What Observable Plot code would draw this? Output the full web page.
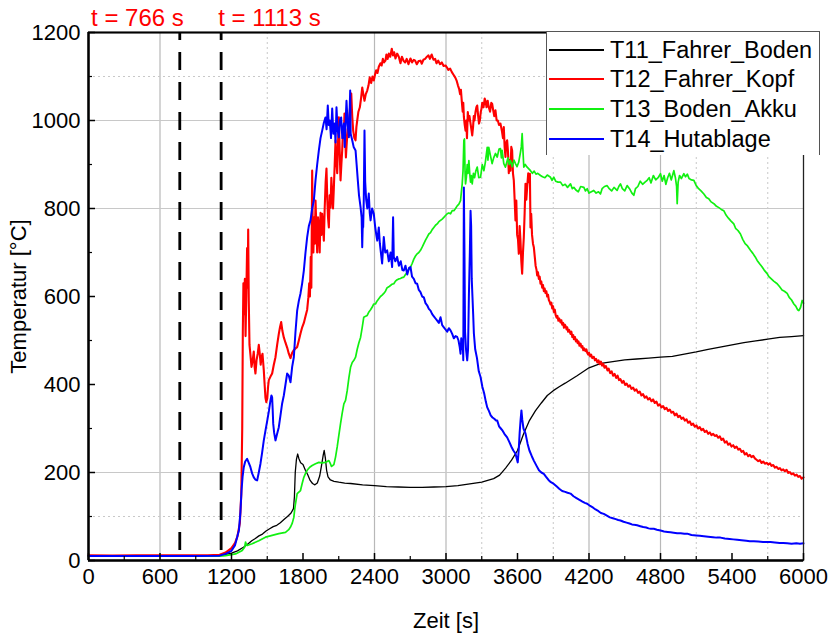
<!DOCTYPE html>
<html><head><meta charset="utf-8">
<script src="https://cdn.jsdelivr.net/npm/d3@7"></script>
<script src="https://cdn.jsdelivr.net/npm/@observablehq/plot@0.6"></script>
<style>
body{margin:0;background:#fff;}
#wrap{position:relative;width:832px;height:635px;font-family:'Liberation Sans',Arial,sans-serif;}
#legend{position:absolute;left:546px;top:31px;width:274px;height:124px;background:#fff;border-left:1px solid #555;border-right:1px solid #555;border-top:1px solid #555;box-sizing:border-box;}
.row{position:absolute;left:0;height:30px;width:270px;}
.sw{position:absolute;left:2px;width:55px;}
.lab{position:absolute;left:63px;top:0;font-size:23.5px;line-height:30px;white-space:nowrap;color:#000;}
</style></head><body><div id="wrap"></div>
<script>
// ---- data: [time s, temperature °C] ----
const seriesNames = ["T11_Fahrer_Boden", "T12_Fahrer_Kopf", "T13_Boden_Akku", "T14_Hutablage"];
const seriesColors = ["#000000", "#ff0000", "#11f011", "#0000ff"];
const eventTimes = [766, 1113];
const eventLabels = ["t = 766 s", "t = 1113 s"];
const xMajorTicks = [0, 600, 1200, 1800, 2400, 3000, 3600, 4200, 4800, 5400, 6000];
const xMinorTicks = [300, 900, 1500, 2100, 2700, 3300, 3900, 4500, 5100, 5700];
const yMajorTicks = [0, 200, 400, 600, 800, 1000, 1200];
const yMinorTicks = [100, 300, 500, 700, 900, 1100];
const xGridSolid = [600, 2400, 3000, 4200, 4800];
const xGridDotted = [1500, 3300, 3900, 5100, 5700];
const yGridSolid = [200, 800, 1000];
const yGridDotted = [100, 1100];

const t11 = [[0,10],[300,10],[600,11],[900,11],[1100,11],[1150,14],[1200,17],[1250,22],[1300,30],[1330,36],[1370,45],[1400,50],[1430,56],[1460,60],[1490,67],[1520,72],[1550,77],[1580,80],[1610,86],[1640,93],[1670,100],[1700,108],[1720,118],[1728,145],[1735,200],[1745,230],[1755,242],[1765,232],[1780,222],[1800,218],[1820,205],[1840,195],[1860,182],[1880,175],[1900,172],[1920,176],[1940,192],[1955,215],[1970,240],[1978,250],[1988,232],[1998,205],[2010,190],[2030,183],[2060,180],[2100,178],[2150,176],[2200,175],[2300,172],[2400,170],[2500,168],[2600,167],[2700,166],[2800,166],[2900,167],[3000,168],[3100,170],[3200,174],[3300,178],[3350,182],[3400,186],[3450,194],[3500,210],[3550,228],[3600,250],[3650,287],[3700,318],[3750,340],[3800,358],[3850,375],[3900,386],[3950,395],[4000,403],[4100,420],[4200,438],[4300,448],[4400,452],[4500,456],[4600,458],[4700,460],[4800,462],[4900,464],[5000,469],[5100,474],[5200,480],[5300,485],[5400,490],[5500,495],[5600,499],[5700,503],[5800,507],[5900,509],[6000,511]];

const t12 = [[0,12],[200,11],[400,12],[600,12],[800,12],[1000,12],[1100,13],[1150,18],[1200,28],[1230,40],[1250,55],[1270,85],[1282,150],[1290,300],[1295,520],[1300,630],[1306,560],[1312,640],[1318,510],[1324,600],[1331,710],[1336,620],[1340,752],[1345,590],[1351,490],[1358,470],[1368,440],[1378,455],[1387,475],[1394,440],[1401,425],[1410,455],[1420,470],[1429,490],[1437,470],[1445,445],[1452,462],[1460,470],[1471,432],[1478,400],[1485,370],[1492,360],[1500,368],[1507,395],[1513,410],[1527,418],[1541,425],[1555,445],[1569,462],[1583,490],[1597,515],[1607,530],[1617,542],[1627,522],[1639,507],[1653,495],[1667,484],[1681,470],[1695,460],[1709,472],[1723,478],[1737,482],[1751,485],[1765,500],[1779,516],[1793,530],[1807,540],[1821,555],[1835,570],[1845,598],[1852,630],[1858,600],[1865,690],[1870,620],[1877,886],[1882,740],[1887,700],[1893,780],[1899,720],[1905,818],[1912,760],[1919,700],[1926,780],[1933,757],[1940,700],[1947,790],[1954,740],[1961,788],[1968,760],[1975,727],[1982,800],[1990,860],[1997,891],[2004,820],[2010,780],[2017,757],[2024,830],[2031,802],[2038,870],[2045,830],[2052,800],[2059,848],[2066,900],[2073,955],[2080,910],[2087,880],[2094,950],[2101,1007],[2108,930],[2115,864],[2122,900],[2129,932],[2136,980],[2142,960],[2148,1016],[2155,960],[2160,916],[2165,940],[2175,980],[2185,993],[2195,1030],[2205,1061],[2213,1010],[2221,977],[2231,960],[2241,955],[2248,985],[2255,1000],[2265,1020],[2277,1030],[2287,1050],[2297,1075],[2306,1060],[2316,1045],[2327,1060],[2339,1068],[2350,1080],[2360,1098],[2372,1085],[2383,1100],[2394,1091],[2405,1105],[2414,1114],[2425,1108],[2436,1122],[2450,1130],[2460,1125],[2470,1140],[2480,1132],[2492,1136],[2500,1150],[2510,1140],[2520,1152],[2532,1145],[2545,1163],[2555,1148],[2565,1155],[2576,1141],[2590,1152],[2604,1145],[2618,1130],[2630,1145],[2645,1135],[2657,1132],[2670,1140],[2685,1128],[2702,1141],[2715,1132],[2730,1138],[2741,1136],[2755,1128],[2770,1135],[2786,1136],[2797,1129],[2810,1138],[2825,1140],[2840,1145],[2853,1148],[2865,1140],[2880,1150],[2895,1138],[2909,1140],[2920,1130],[2935,1136],[2950,1128],[2965,1132],[2980,1124],[2996,1125],[3007,1121],[3020,1115],[3035,1118],[3049,1110],[3063,1104],[3077,1098],[3090,1090],[3100,1080],[3110,1072],[3118,1060],[3125,1070],[3133,1042],[3140,1020],[3145,1040],[3150,1008],[3157,990],[3164,977],[3170,1000],[3176,960],[3183,1019],[3190,1000],[3197,1010],[3206,993],[3213,980],[3220,966],[3227,985],[3233,1010],[3239,1000],[3248,1020],[3255,1030],[3262,1034],[3270,1010],[3277,993],[3284,1000],[3292,1020],[3298,1027],[3304,1040],[3315,1030],[3325,1050],[3331,1045],[3340,1030],[3350,1045],[3359,1030],[3370,1020],[3380,1040],[3387,1038],[3395,1025],[3405,1010],[3415,1023],[3425,1000],[3435,1000],[3445,990],[3457,993],[3470,975],[3478,960],[3485,985],[3492,940],[3499,917],[3506,950],[3513,955],[3520,930],[3527,880],[3534,910],[3541,886],[3548,940],[3555,932],[3562,880],[3569,864],[3576,820],[3583,773],[3590,818],[3597,740],[3604,730],[3611,697],[3618,760],[3625,727],[3632,680],[3639,652],[3646,700],[3653,735],[3660,790],[3667,856],[3674,820],[3681,848],[3690,880],[3697,860],[3704,879],[3709,757],[3715,788],[3722,740],[3730,720],[3737,712],[3745,690],[3752,670],[3760,660],[3765,648],[3772,655],[3779,640],[3786,645],[3793,629],[3800,634],[3807,620],[3814,626],[3821,612],[3828,618],[3835,608],[3842,612],[3849,600],[3856,604],[3863,592],[3870,588],[3877,582],[3884,586],[3891,573],[3898,578],[3905,565],[3913,570],[3920,558],[3928,552],[3935,556],[3943,545],[3950,550],[3961,541],[3968,546],[3975,536],[3983,540],[3990,529],[3998,536],[4005,532],[4012,525],[4017,530],[4025,520],[4033,524],[4045,515],[4052,520],[4060,508],[4068,512],[4073,503],[4082,508],[4090,498],[4098,502],[4105,494],[4112,498],[4120,488],[4129,493],[4137,484],[4145,487],[4152,478],[4160,482],[4170,476],[4178,480],[4185,472],[4193,468],[4200,472],[4210,464],[4218,468],[4228,460],[4240,463],[4250,455],[4260,458],[4270,450],[4280,455],[4290,446],[4300,452],[4310,443],[4320,447],[4330,438],[4342,442],[4355,432],[4365,436],[4378,426],[4390,430],[4402,420],[4415,424],[4428,415],[4440,420],[4452,410],[4464,412],[4478,404],[4490,408],[4503,399],[4516,402],[4530,395],[4543,398],[4556,390],[4570,393],[4584,386],[4598,389],[4612,381],[4626,384],[4640,375],[4654,378],[4668,370],[4682,373],[4696,366],[4710,369],[4724,362],[4738,366],[4752,358],[4766,361],[4780,352],[4794,355],[4808,348],[4822,351],[4836,344],[4850,347],[4864,340],[4878,343],[4892,336],[4906,338],[4920,330],[4934,334],[4948,326],[4962,329],[4976,322],[4990,325],[5004,318],[5018,321],[5032,313],[5046,316],[5060,308],[5074,311],[5088,304],[5102,307],[5116,300],[5130,303],[5144,296],[5158,299],[5172,292],[5186,295],[5200,288],[5214,291],[5228,285],[5242,288],[5256,283],[5270,285],[5284,279],[5298,282],[5312,274],[5326,277],[5340,268],[5354,271],[5368,263],[5382,266],[5396,259],[5410,262],[5424,256],[5438,259],[5452,252],[5466,254],[5480,247],[5494,249],[5508,241],[5522,244],[5536,237],[5550,240],[5564,235],[5578,238],[5592,232],[5606,229],[5620,226],[5634,228],[5648,222],[5662,225],[5676,220],[5690,222],[5704,218],[5718,221],[5732,215],[5746,217],[5760,211],[5774,213],[5788,208],[5802,210],[5816,205],[5830,207],[5844,203],[5858,206],[5872,199],[5886,201],[5900,196],[5914,198],[5928,193],[5942,195],[5956,190],[5970,192],[5984,186],[6000,189]];

const t13 = [[0,10],[300,10],[600,10],[900,10],[1100,10],[1150,11],[1234,15],[1290,23],[1310,30],[1318,42],[1325,36],[1331,34],[1373,38],[1429,45],[1485,53],[1541,57],[1597,61],[1653,64],[1680,70],[1695,76],[1710,85],[1723,98],[1730,115],[1737,129],[1751,152],[1779,159],[1793,175],[1807,189],[1821,198],[1835,205],[1856,212],[1877,216],[1905,220],[1933,223],[1960,222],[1989,223],[2017,227],[2030,220],[2039,214],[2050,216],[2059,218],[2073,235],[2087,258],[2101,285],[2115,311],[2129,335],[2143,356],[2157,364],[2171,386],[2185,415],[2199,439],[2213,450],[2227,455],[2241,462],[2255,480],[2269,495],[2283,507],[2297,530],[2310,553],[2325,555],[2339,557],[2353,565],[2367,570],[2381,576],[2394,583],[2408,583],[2422,590],[2436,595],[2450,600],[2464,603],[2478,607],[2492,612],[2506,620],[2520,622],[2534,625],[2548,628],[2562,629],[2576,635],[2590,638],[2604,640],[2618,641],[2632,643],[2646,644],[2660,650],[2674,655],[2688,662],[2702,667],[2716,675],[2730,685],[2744,692],[2758,697],[2772,700],[2786,705],[2800,712],[2814,720],[2828,728],[2842,735],[2856,742],[2870,745],[2884,752],[2898,757],[2912,762],[2926,765],[2940,770],[2954,773],[2968,776],[2982,780],[2996,784],[3010,788],[3024,790],[3038,788],[3052,795],[3066,795],[3080,800],[3094,806],[3108,810],[3122,818],[3130,840],[3136,856],[3143,886],[3150,955],[3155,958],[3160,880],[3164,856],[3171,871],[3178,900],[3185,880],[3192,909],[3199,880],[3206,860],[3213,875],[3220,856],[3230,880],[3240,870],[3250,885],[3262,894],[3275,870],[3290,871],[3304,900],[3318,886],[3330,905],[3346,939],[3352,910],[3359,939],[3373,920],[3387,902],[3400,915],[3415,925],[3430,917],[3445,935],[3457,936],[3465,915],[3471,932],[3485,902],[3499,894],[3510,905],[3520,915],[3530,900],[3541,909],[3555,895],[3570,910],[3583,902],[3596,895],[3610,905],[3625,928],[3632,940],[3639,970],[3646,930],[3653,894],[3665,900],[3681,894],[3695,890],[3709,886],[3725,880],[3740,885],[3755,878],[3770,880],[3793,875],[3810,872],[3830,870],[3850,876],[3877,871],[3890,864],[3905,871],[3920,862],[3940,860],[3961,860],[3980,852],[4000,855],[4020,848],[4045,856],[4060,845],[4073,848],[4090,842],[4110,838],[4130,850],[4157,848],[4170,840],[4185,845],[4200,835],[4220,838],[4240,841],[4260,835],[4280,838],[4296,833],[4310,845],[4330,850],[4352,852],[4370,845],[4390,840],[4410,848],[4436,841],[4450,850],[4464,856],[4480,845],[4500,840],[4520,852],[4540,845],[4560,835],[4576,830],[4590,845],[4610,850],[4630,862],[4650,855],[4670,860],[4688,864],[4705,870],[4720,858],[4740,875],[4760,865],[4780,870],[4800,879],[4815,862],[4830,875],[4845,855],[4860,870],[4875,880],[4890,865],[4912,886],[4925,870],[4935,850],[4940,811],[4948,860],[4960,875],[4975,868],[4996,879],[5010,872],[5025,878],[5040,868],[5060,865],[5080,864],[5100,852],[5120,845],[5140,840],[5164,833],[5185,825],[5205,822],[5225,815],[5248,811],[5270,805],[5290,802],[5310,798],[5331,795],[5350,785],[5370,778],[5390,772],[5415,765],[5430,755],[5450,750],[5471,742],[5490,730],[5510,720],[5530,715],[5555,705],[5575,698],[5595,690],[5611,682],[5630,675],[5650,668],[5670,660],[5695,652],[5710,645],[5730,640],[5750,635],[5779,629],[5800,622],[5820,615],[5840,612],[5863,607],[5880,598],[5900,592],[5919,583],[5935,578],[5950,570],[5961,568],[5975,575],[5989,591],[6000,585]];

const t14 = [[0,10],[300,10],[600,10],[900,10],[1100,11],[1150,15],[1200,22],[1230,35],[1262,68],[1275,110],[1284,159],[1293,190],[1303,212],[1315,225],[1331,231],[1345,222],[1359,212],[1373,198],[1387,189],[1400,184],[1415,182],[1429,200],[1443,220],[1457,245],[1471,273],[1485,295],[1500,318],[1514,340],[1527,364],[1535,375],[1541,371],[1546,340],[1550,311],[1558,290],[1569,273],[1583,288],[1597,303],[1611,330],[1625,357],[1639,375],[1653,400],[1667,425],[1681,420],[1695,405],[1709,440],[1723,462],[1737,520],[1751,568],[1765,590],[1779,607],[1793,630],[1807,659],[1821,700],[1835,735],[1849,760],[1863,773],[1877,800],[1891,818],[1905,864],[1919,900],[1933,932],[1947,960],[1961,977],[1975,995],[1989,1007],[1998,980],[2008,1034],[2016,990],[2025,1000],[2035,960],[2045,1027],[2055,970],[2065,993],[2073,950],[2081,1030],[2090,980],[2101,962],[2110,1000],[2120,1007],[2130,960],[2143,993],[2150,940],[2158,1000],[2165,1045],[2175,990],[2185,962],[2196,1068],[2200,970],[2213,955],[2225,940],[2241,932],[2250,900],[2260,864],[2270,830],[2283,803],[2292,780],[2297,712],[2302,770],[2305,757],[2310,820],[2316,977],[2322,860],[2330,820],[2340,800],[2352,834],[2360,790],[2367,773],[2380,800],[2394,788],[2405,760],[2415,740],[2423,727],[2436,757],[2445,720],[2464,675],[2478,735],[2490,700],[2506,705],[2520,680],[2535,700],[2548,667],[2556,780],[2562,690],[2575,680],[2590,690],[2605,670],[2620,680],[2634,660],[2646,659],[2660,670],[2675,650],[2690,665],[2702,667],[2715,645],[2730,640],[2745,630],[2758,629],[2772,615],[2786,610],[2800,600],[2814,598],[2828,585],[2842,580],[2856,572],[2870,568],[2884,560],[2898,555],[2912,550],[2926,545],[2940,540],[2954,553],[2968,535],[2982,530],[2996,525],[3010,520],[3024,528],[3038,523],[3052,515],[3066,505],[3080,510],[3094,508],[3105,500],[3115,485],[3122,470],[3128,505],[3133,480],[3140,500],[3145,455],[3150,848],[3155,700],[3160,520],[3168,480],[3178,455],[3185,480],[3192,600],[3200,700],[3206,795],[3211,760],[3216,640],[3222,600],[3228,560],[3234,516],[3245,480],[3260,460],[3275,430],[3290,417],[3305,395],[3320,380],[3335,360],[3346,348],[3360,340],[3375,330],[3390,325],[3405,322],[3420,318],[3430,318],[3445,305],[3460,300],[3475,295],[3490,288],[3513,280],[3530,270],[3550,258],[3565,250],[3583,243],[3595,230],[3602,223],[3610,250],[3618,290],[3626,320],[3633,341],[3640,320],[3650,300],[3667,289],[3685,265],[3700,250],[3720,237],[3737,227],[3760,215],[3780,205],[3800,200],[3821,197],[3840,190],[3860,183],[3880,178],[3905,174],[3930,168],[3950,163],[3975,158],[4000,156],[4020,154],[4045,152],[4070,146],[4095,142],[4120,138],[4145,134],[4165,131],[4185,129],[4210,124],[4235,120],[4255,116],[4280,112],[4300,108],[4324,106],[4350,102],[4375,98],[4400,96],[4425,94],[4445,92],[4464,91],[4490,88],[4515,86],[4540,84],[4560,82],[4580,81],[4604,80],[4630,78],[4655,76],[4680,75],[4700,73],[4720,72],[4744,72],[4770,70],[4800,68],[4830,66],[4860,65],[4884,64],[4910,63],[4940,62],[4970,62],[5000,61],[5024,61],[5060,58],[5100,57],[5130,56],[5164,55],[5200,54],[5240,53],[5270,52],[5303,52],[5340,50],[5380,49],[5410,48],[5443,47],[5480,46],[5520,45],[5550,44],[5583,44],[5620,43],[5660,42],[5690,42],[5723,42],[5760,41],[5800,40],[5830,40],[5863,39],[5900,38],[5940,39],[5970,38],[6000,39]];

const seriesData = [t11, t12, t13, t14];
const seriesWidths = [1.3, 2.1, 1.7, 2.0];

const font = "'Liberation Sans', Arial, sans-serif";

const lineMarks = seriesData.map((d, i) =>
  Plot.line(d, {stroke: seriesColors[i], strokeWidth: seriesWidths[i], strokeLinejoin: "round"}));

const chart = Plot.plot({
  width: 832,
  height: 635,
  marginLeft: 88,
  marginRight: 29,
  marginTop: 32,
  marginBottom: 75,
  style: {background: "white", fontFamily: font, color: "black", overflow: "visible"},
  x: {domain: [0, 6000]},
  y: {domain: [0, 1200]},
  marks: [
    Plot.gridX(xGridSolid, {stroke: "#b8b8b8", strokeOpacity: 1, strokeWidth: 1.2}),
    Plot.gridX(xGridDotted, {stroke: "#c8c8c8", strokeOpacity: 1, strokeDasharray: "2,3"}),
    Plot.gridY(yGridSolid, {stroke: "#c8c8c8", strokeOpacity: 1, strokeWidth: 1.2}),
    Plot.gridY(yGridDotted, {stroke: "#c8c8c8", strokeOpacity: 1, strokeDasharray: "2,3"}),
    Plot.ruleX(eventTimes, {stroke: "black", strokeWidth: 2.8, strokeDasharray: "18,12", strokeDashoffset: 10}),
    ...lineMarks,
    Plot.frame({stroke: "#222", strokeWidth: 1.3}),
    Plot.ruleY([1200], {stroke: "black", strokeWidth: 2}),
    Plot.ruleX([0], {stroke: "black", strokeWidth: 2.5}),
    Plot.ruleY([0], {stroke: "black", strokeWidth: 2.5}),
    Plot.axisX(xMajorTicks, {tickSize: -7, tickPadding: 15, fontSize: 22, tickFormat: d => String(d), label: null, strokeWidth: 1.5}),
    Plot.axisX(xMinorTicks, {tickSize: -4, tickPadding: 15, tickFormat: () => "", label: null, strokeWidth: 1.2}),
    Plot.axisY(yMajorTicks, {tickSize: -7, tickPadding: 15, fontSize: 22, tickFormat: d => String(d), label: null, strokeWidth: 1.5}),
    Plot.axisY(yMinorTicks, {tickSize: -4, tickPadding: 15, tickFormat: () => "", label: null, strokeWidth: 1.2}),
    Plot.text([eventTimes[0]], {x: d => d, text: () => eventLabels[0], frameAnchor: "top", lineAnchor: "middle", dy: -14, dx: 4, textAnchor: "end", fill: "#ff0000", fontSize: 24}),
    Plot.text([eventTimes[1]], {x: d => d, text: () => eventLabels[1], frameAnchor: "top", lineAnchor: "middle", dy: -14, dx: -3, textAnchor: "start", fill: "#ff0000", fontSize: 24}),
    Plot.text(["Zeit [s]"], {text: d => d, frameAnchor: "bottom", lineAnchor: "middle", dy: 60, fontSize: 22}),
    Plot.text(["Temperatur [°C]"], {text: d => d, frameAnchor: "left", textAnchor: "middle", lineAnchor: "middle", dx: -70, rotate: -90, fontSize: 22})
  ]
});

const wrap = document.getElementById("wrap");
wrap.appendChild(chart);

const legend = document.createElement("div");
legend.id = "legend";
const rowCenters = [18, 47, 77, 107];
seriesNames.forEach((name, i) => {
  const row = document.createElement("div");
  row.className = "row";
  row.style.top = (rowCenters[i] - 15) + "px";
  const sw = document.createElement("div");
  sw.className = "sw";
  const w = i === 0 ? 1.3 : 2.2;
  sw.style.top = (15 - w / 2) + "px";
  sw.style.height = w + "px";
  sw.style.background = seriesColors[i];
  const lab = document.createElement("div");
  lab.className = "lab";
  lab.textContent = name;
  row.appendChild(sw);
  row.appendChild(lab);
  legend.appendChild(row);
});
wrap.appendChild(legend);
</script>
</body></html>
